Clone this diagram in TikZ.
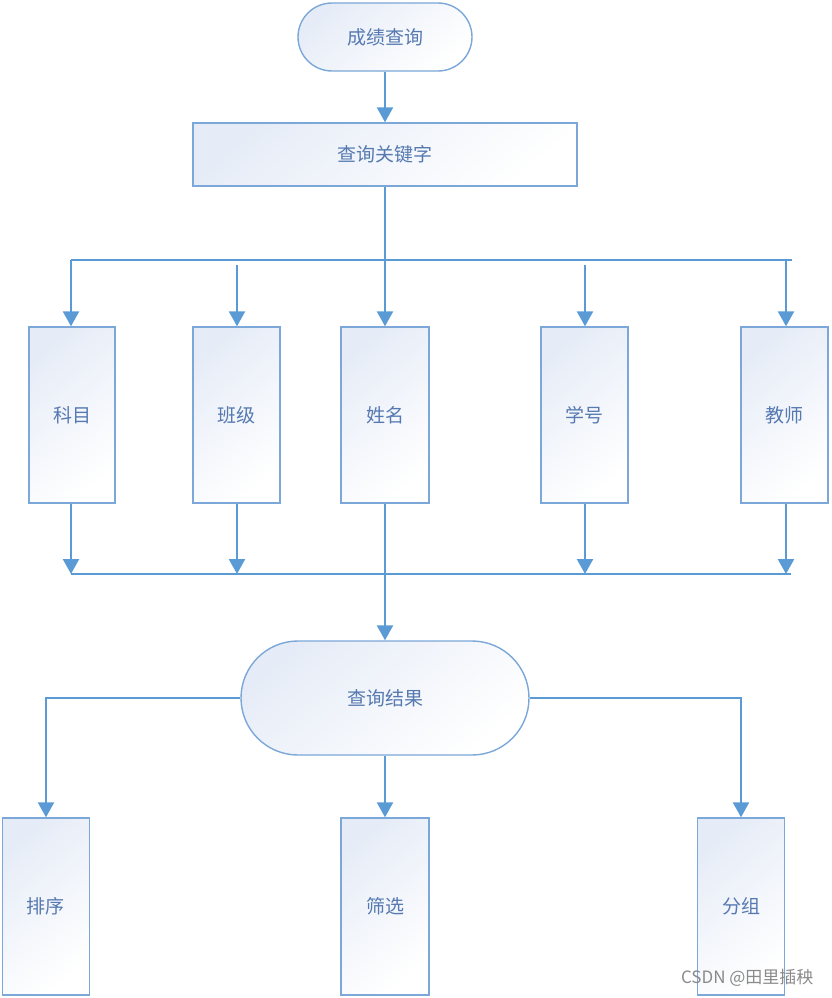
\documentclass[tikz,border=0pt]{standalone}
\usepackage{fontspec}
\setmainfont{Noto Sans CJK SC}
\usetikzlibrary{arrows.meta,calc}
\definecolor{lineblue}{HTML}{5B9BD5}
\definecolor{edgeblue}{HTML}{7BA7D9}
\definecolor{textblue}{HTML}{5579B0}
\definecolor{fillblue}{HTML}{E6ECF7}
\definecolor{wmgray}{HTML}{8A8A8A}
\tikzset{
  boxbase/.style={draw=edgeblue, line width=1.4pt, top color=fillblue, bottom color=white, shading angle=40, text=textblue, font=\fontsize{19}{21}\selectfont, inner sep=0pt},
  procbox/.style={boxbase, rectangle, minimum width=#1, minimum height=176pt},
  conn/.style={draw=lineblue, line width=2.4pt, line join=miter},
  arr/.style={conn, -{Triangle[width=16pt,length=15pt]}}
}
\begin{document}
\begin{tikzpicture}[x=1pt,y=-1pt]
\useasboundingbox (0,0) rectangle (831,998);
% nodes
\node[boxbase, rounded corners=34pt, minimum width=174pt, minimum height=68pt] (start) at (385,37) {成绩查询};
\node[boxbase, minimum width=384pt, minimum height=63pt] (key) at (385,154.5) {查询关键字};
\node[procbox=86pt] (km) at (72,415) {科目};
\node[procbox=87pt] (bj) at (236.5,415) {班级};
\node[procbox=88pt] (xm) at (385,415) {姓名};
\node[procbox=87pt] (xh) at (584.5,415) {学号};
\node[procbox=87pt] (js) at (784.5,415) {教师};
\node[boxbase, rounded corners=57pt, minimum width=288pt, minimum height=114pt] (res) at (385,698) {查询结果};
\node[boxbase, minimum width=87pt, minimum height=177pt] (px) at (46,906.5) {排序};
\node[boxbase, minimum width=88pt, minimum height=177pt] (sx) at (385,906.5) {筛选};
\node[boxbase, minimum width=87pt, minimum height=177pt] (fz) at (741,906.5) {分组};
\node[text=wmgray, font=\fontsize{17}{19}\selectfont, anchor=east] (wm) at (817,978) {CSDN @田里插秧};
% coordinates
\coordinate (tL) at (71,260);
\coordinate (tR) at (792,260);
\coordinate (bL) at (71,574);
\coordinate (bR) at (791,574);
\coordinate (bjTop) at (237,265);
\coordinate (xhTop) at (585,265);
\coordinate (jsTop) at (786,260);
% connectors
\draw[arr] (start.south) -- (key.north);
\draw[conn] (tL) -- (tR);
\draw[arr] (key.south) -- (xm.north);
\draw[arr] (tL) -- (tL |- km.north);
\draw[arr] (bjTop) -- (bjTop |- bj.north);
\draw[arr] (xhTop) -- (xhTop |- xh.north);
\draw[arr] (jsTop) -- (jsTop |- js.north);
\draw[conn] (bL) -- (bR);
\draw[arr] (bL |- km.south) -- (bL);
\draw[arr] (bjTop |- bj.south) -- (bjTop |- bL);
\draw[arr] (xhTop |- xh.south) -- (xhTop |- bL);
\draw[arr] (jsTop |- js.south) -- (jsTop |- bL);
\draw[arr] (xm.south) -- (res.north);
\draw[arr] (res.west) -| (px.north);
\draw[arr] (res.south) -- (sx.north);
\draw[arr] (res.east) -| (fz.north);
\end{tikzpicture}
\end{document}
